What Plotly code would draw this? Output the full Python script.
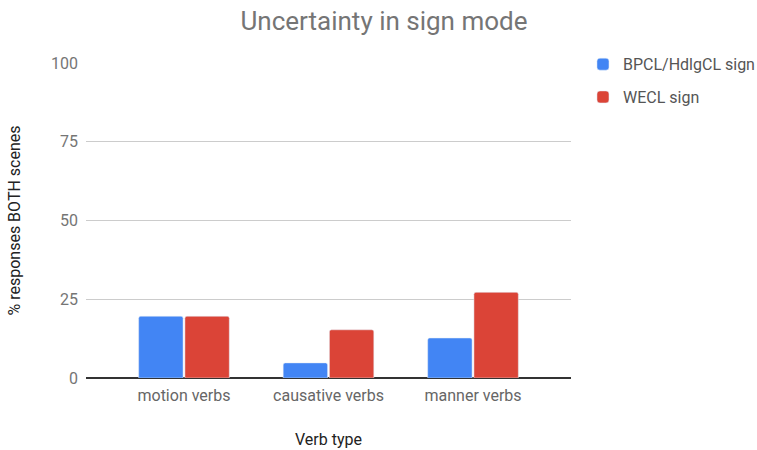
import plotly.graph_objects as go

categories = ["motion verbs", "causative verbs", "manner verbs"]
bpcl_values = [19.6, 4.8, 12.7]
wecl_values = [19.6, 15.3, 27.2]
series_names = ["BPCL/HdlgCL sign", "WECL sign"]
y_ticks = [0, 25, 50, 75, 100]

W, H = 757, 450

fig = go.Figure()
fig.add_trace(go.Bar(x=categories, y=bpcl_values, name=series_names[0],
                     marker_color="#4285f4", legendgroup="a"))
fig.add_trace(go.Bar(x=categories, y=wecl_values, name=series_names[1],
                     marker_color="#db4437", legendgroup="b"))

fig.update_layout(
    width=W, height=H,
    margin=dict(l=86, r=W - 86 - 485, t=63, b=H - 63 - 315, autoexpand=False),
    paper_bgcolor="white", plot_bgcolor="white",
    font=dict(family="Roboto, Arial, sans-serif", size=16, color="#222222"),
    title=dict(text="Uncertainty in sign mode", x=384 / W, xanchor="center",
               y=1 - 21 / H, yanchor="middle",
               font=dict(size=26, color="#757575")),
    barmode="group", bargap=0.36, bargroupgap=0.04, barcornerradius=2,
    legend=dict(x=1.0247, y=1.05, xanchor="left", yanchor="top",
                font=dict(size=16, color="#555555"), tracegroupgap=9,
                itemwidth=30),
    xaxis=dict(range=[-0.678, 2.678], showgrid=False, showline=False,
               zeroline=False, ticks="", automargin=False,
               ticklabelstandoff=6,
               tickfont=dict(size=16, color="#666666"),
               title=dict(text="Verb type", font=dict(size=16, color="#222222"),
                          standoff=29)),
    yaxis=dict(range=[0, 100], tickvals=y_ticks, showgrid=True,
               gridcolor="#cccccc", gridwidth=1, zeroline=True,
               zerolinecolor="#333333", zerolinewidth=1.5, ticks="",
               ticklabelstandoff=7, automargin=False,
               tickfont=dict(size=16, color="#757575"),
               title=dict(text="% responses BOTH scenes",
                          font=dict(size=16, color="#222222"), standoff=26)),
)

fig.write_html("out.html", config={"displayModeBar": False},
               post_script="document.body.style.margin='0px';")
